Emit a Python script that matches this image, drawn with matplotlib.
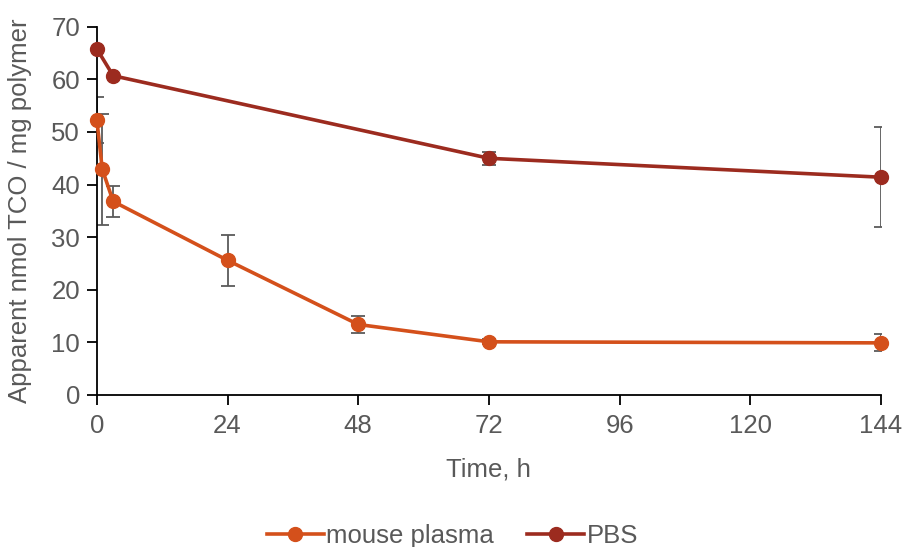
import matplotlib
matplotlib.use("Agg")
import matplotlib.pyplot as plt

plt.rcParams['font.family'] = ['Liberation Sans', 'DejaVu Sans']

time_plasma = [0, 1, 3, 24, 48, 72, 144]
plasma = [52.3, 42.9, 36.8, 25.6, 13.4, 10.1, 9.9]
plasma_err = [4.3, 10.5, 3.0, 4.9, 1.6, 0.5, 1.6]

time_pbs = [0, 3, 72, 144]
pbs = [65.8, 60.7, 45.0, 41.4]
pbs_err = [0.0, 0.0, 1.2, 9.5]

xticks = [0, 24, 48, 72, 96, 120, 144]
yticks = [0, 10, 20, 30, 40, 50, 60, 70]

c_plasma = '#D4501B'
c_pbs = '#9C2B1F'
c_err = '#5A5A5A'
c_text = '#595959'
fs = 18.5

fig = plt.figure(figsize=(9.05, 5.47), dpi=100)
ax = fig.add_axes([0.107, 0.278, 0.8665, 0.673])

ax.errorbar(time_plasma, plasma, yerr=plasma_err, fmt='none', ecolor=c_err,
            elinewidth=1.3, capsize=5, capthick=1.3, zorder=1)
ax.errorbar(time_pbs, pbs, yerr=pbs_err, fmt='none', ecolor=c_err,
            elinewidth=1.3, capsize=5, capthick=1.3, zorder=1)
ax.plot(time_plasma, plasma, '-o', color=c_plasma, lw=2.6, ms=10,
        label='mouse plasma', zorder=3, clip_on=False)
ax.plot(time_pbs, pbs, '-o', color=c_pbs, lw=2.6, ms=10,
        label='PBS', zorder=3, clip_on=False)

ax.set_xlim(0, 144)
ax.set_ylim(0, 70)
ax.set_xticks(xticks)
ax.set_yticks(yticks)
for s in ['top', 'right']:
    ax.spines[s].set_visible(False)
for s in ['left', 'bottom']:
    ax.spines[s].set_color('black')
    ax.spines[s].set_linewidth(1.3)
ax.tick_params(axis='both', direction='out', length=7, width=1.3,
               colors='black', labelcolor=c_text, labelsize=fs, pad=5)
ax.tick_params(axis='x', pad=7)

ax.set_xlabel('Time, h', fontsize=fs, color=c_text, labelpad=14)
ax.set_ylabel('Apparent nmol TCO / mg polymer', fontsize=fs, color=c_text, labelpad=14)

leg = fig.legend(loc='lower center', bbox_to_anchor=(0.5, -0.045), ncol=2,
                 frameon=False, fontsize=fs, handlelength=2.2,
                 handletextpad=0.1, columnspacing=1.3, labelcolor=c_text)

fig.savefig('out.png', dpi=100)
